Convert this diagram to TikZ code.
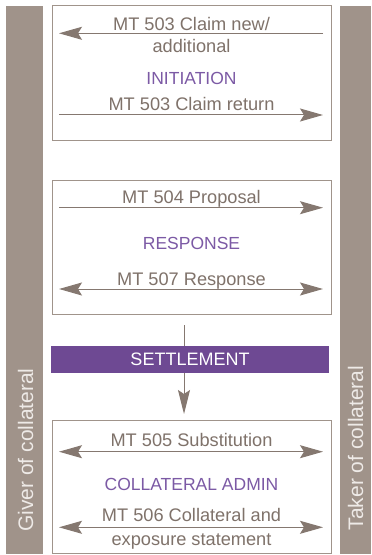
\documentclass[tikz,border=0pt]{standalone}
\usepackage{fontspec}
\setmainfont{Liberation Sans}
\usetikzlibrary{arrows.meta}
\definecolor{bargray}{HTML}{A0938A}
\definecolor{boxline}{HTML}{A0948B}
\definecolor{txtgray}{HTML}{7F726A}
\definecolor{arrgray}{HTML}{857870}
\definecolor{purptxt}{HTML}{7C5AA5}
\definecolor{settlefill}{HTML}{6E4993}
\definecolor{sidetxt}{HTML}{EEEAE7}
\tikzset{
  sidebar/.style={fill=bargray, draw=none, inner sep=0pt, anchor=north west},
  sidelabel/.style={rotate=90, anchor=base, text=sidetxt, inner sep=0pt, font=\fontsize{21bp}{24bp}\selectfont},
  phasebox/.style={draw=boxline, line width=1bp, fill=white, inner sep=0pt, anchor=north west},
  msg/.style={anchor=base, text=txtgray, inner sep=0pt, font=\fontsize{18.2bp}{20bp}\selectfont},
  phase/.style={anchor=base, text=purptxt, inner sep=0pt, font=\fontsize{17.5bp}{20bp}\selectfont},
  settlebar/.style={fill=settlefill, draw=none, inner sep=0pt, text=white, font=\fontsize{18bp}{20bp}\selectfont},
  msgarrow/.style={draw=arrgray, line width=1bp, -{Stealth[length=23bp,width=13bp,inset=4bp]}},
  msgarrows/.style={draw=arrgray, line width=1bp, {Stealth[length=23bp,width=13bp,inset=4bp]}-{Stealth[length=23bp,width=13bp,inset=4bp]}},
  flowarrow/.style={draw=arrgray, line width=1bp, -{Stealth[length=24bp,width=12bp,inset=4bp]}}
}
\begin{document}
\begin{tikzpicture}[x=1bp,y=-1bp]
\useasboundingbox (0,0) rectangle (371,555);
% side bars
\node[sidebar, minimum width=37bp, minimum height=548bp] (giverbar) at (6,6) {};
\node[sidebar, minimum width=31bp, minimum height=548bp] (takerbar) at (340,6) {};
\node[sidelabel] (giver) at (33,450) {Giver of collateral};
\node[sidelabel] (taker) at (363,448) {Taker of collateral};
% boxes
\node[phasebox, minimum width=279bp, minimum height=135bp] (box1) at (52,5) {};
\node[phasebox, minimum width=279bp, minimum height=134bp] (box2) at (52,180) {};
\node[phasebox, minimum width=279bp, minimum height=133bp] (box3) at (52,420) {};
% box 1
\node[msg] (m1a) at (191.5,30.5) {MT 503 Claim new/};
\node[msg] (m1b) at (191.5,52.5) {additional};
\node[phase] (p1) at (191.5,85) {INITIATION};
\node[msg] (m2) at (191.5,110.5) {MT 503 Claim return};
\coordinate (a1l) at (59,33.3);
\coordinate (a1r) at (323,33.3);
\coordinate (a2l) at (59,115);
\coordinate (a2r) at (323,115);
\draw[msgarrow] (a1r) -- (a1l);
\draw[msgarrow] (a2l) -- (a2r);
% box 2
\node[msg] (m3) at (191.5,203.3) {MT 504 Proposal};
\node[phase] (p2) at (191.5,249) {RESPONSE};
\node[msg] (m4) at (191.5,285) {MT 507 Response};
\coordinate (a3l) at (59,207.7);
\coordinate (a3r) at (323,207.7);
\coordinate (a4l) at (59,289);
\coordinate (a4r) at (323,289);
\draw[msgarrow] (a3l) -- (a3r);
\draw[msgarrows] (a4l) -- (a4r);
% settlement
\coordinate (vtop) at (184,325);
\coordinate (vbot) at (184,414);
\draw[flowarrow] (vtop) -- (vbot);
\node[settlebar, minimum width=278bp, minimum height=27bp] (settle) at (190,359.5) {SETTLEMENT};
% box 3
\node[msg] (m5) at (191.5,446) {MT 505 Substitution};
\node[phase] (p3) at (191.5,490) {COLLATERAL ADMIN};
\node[msg] (m6a) at (191.5,521.7) {MT 506 Collateral and};
\node[msg] (m6b) at (191.5,545) {exposure statement};
\coordinate (a5l) at (59,451.7);
\coordinate (a5r) at (323,451.7);
\coordinate (a6l) at (59,527.3);
\coordinate (a6r) at (323,527.3);
\draw[msgarrows] (a5l) -- (a5r);
\draw[msgarrows] (a6l) -- (a6r);
\end{tikzpicture}
\end{document}
